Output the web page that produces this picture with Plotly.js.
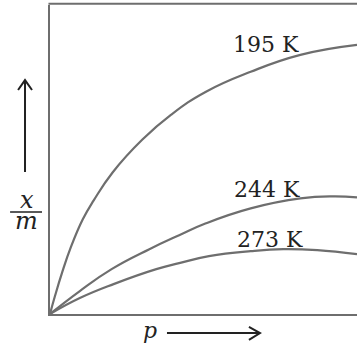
<!DOCTYPE html>
<html>
<head>
<meta charset="utf-8">
<script src="https://cdn.plot.ly/plotly-3.0.1.min.js"></script>
<style>
  html, body { margin: 0; padding: 0; background: #fff; overflow: hidden; }
  #plot { width: 357px; height: 346px; }
</style>
</head>
<body>
<div id="plot"></div>
<script>
// Freundlich isotherms, x/m against p (arbitrary units)
const p195 = [0, 5, 12, 21, 33, 44, 63, 93, 122, 157, 202, 252, 309];
const y195 = [0, 18, 41, 67, 95, 114, 142, 175, 200, 223, 243, 260, 270];

const p244 = [0, 30, 62, 100, 130, 157, 202, 252, 285, 309];
const y244 = [0, 23, 45, 65, 79, 91, 106, 116, 118, 117];

const p273 = [0, 30, 64, 107, 130, 160, 202, 235, 269, 309];
const y273 = [0, 16, 30, 45, 51, 58, 63, 65, 64, 60];

const curveNames = ['195 K', '244 K', '273 K'];

const lineColor = '#6e6e6e';
const inkColor = '#222222';

function curve(x, y, name) {
    return {
        x: x,
        y: y,
        name: name,
        mode: 'lines',
        line: { color: lineColor, width: 2.2, shape: 'spline', smoothing: 1.3 },
        hoverinfo: 'skip'
    };
}

var data = [
    curve(p195, y195, curveNames[0]),
    curve(p244, y244, curveNames[1]),
    curve(p273, y273, curveNames[2])
];

// label positions, in axis units, near the right end of each curve
function label(text, x, y) {
    return {
        text: text, x: x, y: y, xref: 'x', yref: 'y',
        showarrow: false, xanchor: 'center', yanchor: 'middle',
        font: { family: 'DejaVu Serif', size: 22, color: inkColor }
    };
}

function letter(text, x, y, size, anchor) {
    return {
        text: '<i>' + text + '</i>', x: x, y: y, xref: 'paper', yref: 'paper',
        showarrow: false, xanchor: 'center', yanchor: anchor,
        font: { family: 'DejaVu Serif', size: size, color: inkColor }
    };
}

var layout = {
    width: 357,
    height: 346,
    margin: { l: 50, r: 0, t: 5, b: 32 },
    paper_bgcolor: '#ffffff',
    plot_bgcolor: '#ffffff',
    showlegend: false,
    xaxis: {
        range: [0, 309], showgrid: false, zeroline: false, showticklabels: false,
        ticks: '', showline: true, linecolor: lineColor, linewidth: 2.2, fixedrange: true
    },
    yaxis: {
        range: [0, 310], showgrid: false, zeroline: false, showticklabels: false,
        ticks: '', showline: true, linecolor: lineColor, linewidth: 2.2, fixedrange: true
    },
    annotations: [
        label(curveNames[0], 217, 270),
        label(curveNames[1], 218, 125),
        label(curveNames[2], 221, 75),
        letter('p', 0.326, -0.052, 22, 'middle'),
        letter('x', -0.0765, 0.317, 24, 'bottom'),
        letter('m', -0.0765, 0.353, 24, 'top')
    ],
    shapes: [
        // top border (no right border in the picture)
        { type: 'line', xref: 'paper', yref: 'paper', x0: -0.005, x1: 1, y0: 1.004, y1: 1.004,
          line: { color: lineColor, width: 2.2 } },
        // p arrow
        { type: 'path', xref: 'paper', yref: 'paper',
          path: 'M 0.381 -0.0615 L 0.684 -0.0615 M 0.648 -0.042 L 0.684 -0.0615 L 0.648 -0.084',
          line: { color: inkColor, width: 2 } },
        // x/m arrow
        { type: 'path', xref: 'paper', yref: 'paper',
          path: 'M -0.0814 0.4595 L -0.0814 0.757 M -0.104 0.725 L -0.0814 0.757 L -0.0586 0.725',
          line: { color: inkColor, width: 2 } },
        // fraction bar
        { type: 'line', xref: 'paper', yref: 'paper', x0: -0.130, x1: -0.026, y0: 0.330, y1: 0.330,
          line: { color: inkColor, width: 1.5 } }
    ]
};

Plotly.newPlot('plot', data, layout, { displayModeBar: false, staticPlot: true });
</script>
</body>
</html>
